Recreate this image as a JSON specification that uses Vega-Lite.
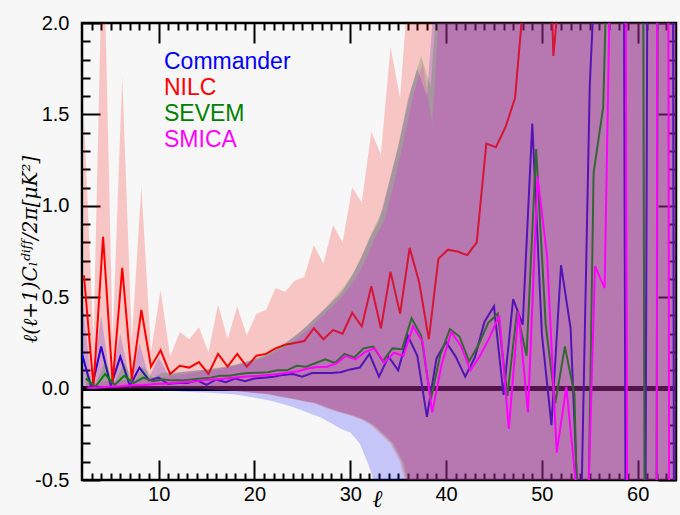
{
"$schema":"https://vega.github.io/schema/vega-lite/v6.json",
"width":594,"height":457,
"autosize":{"type":"none"},
"padding":{"left":82,"top":23,"right":4,"bottom":35},
"background":"#f7f7f7",
"config":{"view":{"stroke":"black","strokeWidth":2.5},
  "legend":{"orient":"none","legendX":59,"legendY":27,"title":null,"symbolSize":0,"symbolOpacity":0,"symbolStrokeWidth":0,"labelOffset":0,"labelFontSize":23,"labelFont":"Liberation Sans","rowPadding":2,"padding":0}},
"data":{"values":[
{"m":"Commander","l":2,"v":0.19,"lo":0,"hi":0.5},
{"m":"Commander","l":3,"v":0,"lo":0,"hi":0.03},
{"m":"Commander","l":4,"v":0.23,"lo":0,"hi":0.4},
{"m":"Commander","l":5,"v":0.015,"lo":0,"hi":0.04},
{"m":"Commander","l":6,"v":0.175,"lo":0,"hi":0.3},
{"m":"Commander","l":7,"v":0.015,"lo":0,"hi":0.05},
{"m":"Commander","l":8,"v":0.115,"lo":0,"hi":0.25},
{"m":"Commander","l":9,"v":0.045,"lo":-0.005,"hi":0.06},
{"m":"Commander","l":10,"v":0.06,"lo":-0.01,"hi":0.17},
{"m":"Commander","l":11,"v":0.025,"lo":-0.012,"hi":0.08},
{"m":"Commander","l":12,"v":0.03,"lo":-0.015,"hi":0.09},
{"m":"Commander","l":13,"v":0.03,"lo":-0.018,"hi":0.095},
{"m":"Commander","l":14,"v":0.045,"lo":-0.02,"hi":0.1},
{"m":"Commander","l":15,"v":0.02,"lo":-0.022,"hi":0.105},
{"m":"Commander","l":16,"v":0.05,"lo":-0.025,"hi":0.11},
{"m":"Commander","l":17,"v":0.035,"lo":-0.028,"hi":0.12},
{"m":"Commander","l":18,"v":0.055,"lo":-0.032,"hi":0.13},
{"m":"Commander","l":19,"v":0.04,"lo":-0.04,"hi":0.145},
{"m":"Commander","l":20,"v":0.055,"lo":-0.05,"hi":0.16},
{"m":"Commander","l":21,"v":0.06,"lo":-0.06,"hi":0.18},
{"m":"Commander","l":22,"v":0.065,"lo":-0.07,"hi":0.21},
{"m":"Commander","l":23,"v":0.075,"lo":-0.085,"hi":0.24},
{"m":"Commander","l":24,"v":0.08,"lo":-0.1,"hi":0.28},
{"m":"Commander","l":25,"v":0.065,"lo":-0.12,"hi":0.32},
{"m":"Commander","l":26,"v":0.085,"lo":-0.14,"hi":0.37},
{"m":"Commander","l":27,"v":0.085,"lo":-0.16,"hi":0.42},
{"m":"Commander","l":28,"v":0.085,"lo":-0.19,"hi":0.47},
{"m":"Commander","l":29,"v":0.09,"lo":-0.22,"hi":0.52},
{"m":"Commander","l":30,"v":0.105,"lo":-0.24,"hi":0.6},
{"m":"Commander","l":31,"v":0.115,"lo":-0.3,"hi":0.7},
{"m":"Commander","l":32,"v":0.19,"lo":-0.43,"hi":0.82},
{"m":"Commander","l":33,"v":0.065,"lo":-0.6,"hi":0.92},
{"m":"Commander","l":34,"v":0.175,"lo":-0.75,"hi":1.12},
{"m":"Commander","l":35,"v":0.1,"lo":-0.9,"hi":1.32},
{"m":"Commander","l":36,"v":0.29,"lo":-1.1,"hi":1.58},
{"m":"Commander","l":37,"v":0.18,"lo":-1.3,"hi":1.75},
{"m":"Commander","l":38,"v":-0.155,"lo":-1.5,"hi":1.6},
{"m":"Commander","l":39,"v":0.165,"lo":-1.7,"hi":2.3},
{"m":"Commander","l":40,"v":0.255,"lo":-4,"hi":5},
{"m":"Commander","l":41,"v":0.175,"lo":-4,"hi":5},
{"m":"Commander","l":42,"v":0.065,"lo":-4,"hi":5},
{"m":"Commander","l":43,"v":0.17,"lo":-4,"hi":5},
{"m":"Commander","l":44,"v":0.365,"lo":-4,"hi":5},
{"m":"Commander","l":45,"v":0.45,"lo":-4,"hi":5},
{"m":"Commander","l":46,"v":-0.035,"lo":-4,"hi":5},
{"m":"Commander","l":47,"v":0.49,"lo":-4,"hi":5},
{"m":"Commander","l":48,"v":0.35,"lo":-4,"hi":5},
{"m":"Commander","l":49,"v":1.45,"lo":-4,"hi":5},
{"m":"Commander","l":50,"v":0.3,"lo":-4,"hi":5},
{"m":"Commander","l":51,"v":-0.2,"lo":-4,"hi":5},
{"m":"Commander","l":52,"v":0.675,"lo":-4,"hi":5},
{"m":"Commander","l":53,"v":0.33,"lo":-4,"hi":5},
{"m":"Commander","l":54,"v":-0.95,"lo":-4,"hi":5},
{"m":"Commander","l":55,"v":1.66,"lo":-4,"hi":5},
{"m":"Commander","l":56,"v":2.8,"lo":-4,"hi":5},
{"m":"Commander","l":57,"v":6,"lo":-4,"hi":5},
{"m":"Commander","l":58,"v":12,"lo":-4,"hi":5},
{"m":"Commander","l":59,"v":-5.3,"lo":-4,"hi":5},
{"m":"Commander","l":60,"v":-13,"lo":-4,"hi":5},
{"m":"Commander","l":61,"v":2.1,"lo":-4,"hi":5},
{"m":"Commander","l":62,"v":8,"lo":-4,"hi":5},
{"m":"Commander","l":63,"v":25,"lo":-4,"hi":5},
{"m":"Commander","l":64,"v":-8,"lo":-4,"hi":5},
{"m":"NILC","l":2.2,"v":0.62,"lo":0,"hi":1.5},
{"m":"NILC","l":3.2,"v":0.01,"lo":0,"hi":0.27},
{"m":"NILC","l":4.2,"v":0.83,"lo":0,"hi":2.6},
{"m":"NILC","l":5.2,"v":0.03,"lo":0,"hi":0.27},
{"m":"NILC","l":6.2,"v":0.66,"lo":0,"hi":1.71},
{"m":"NILC","l":7.2,"v":0.05,"lo":0,"hi":0.27},
{"m":"NILC","l":8.2,"v":0.43,"lo":0,"hi":1.11},
{"m":"NILC","l":9.2,"v":0.12,"lo":0,"hi":0.2},
{"m":"NILC","l":10.2,"v":0.21,"lo":0,"hi":0.54},
{"m":"NILC","l":11.2,"v":0.08,"lo":0,"hi":0.175},
{"m":"NILC","l":12.2,"v":0.125,"lo":0,"hi":0.31},
{"m":"NILC","l":13.2,"v":0.115,"lo":0,"hi":0.27},
{"m":"NILC","l":14.2,"v":0.145,"lo":0,"hi":0.335},
{"m":"NILC","l":15.2,"v":0.08,"lo":-0.005,"hi":0.2},
{"m":"NILC","l":16.2,"v":0.19,"lo":-0.008,"hi":0.46},
{"m":"NILC","l":17.2,"v":0.12,"lo":-0.01,"hi":0.27},
{"m":"NILC","l":18.2,"v":0.19,"lo":-0.015,"hi":0.45},
{"m":"NILC","l":19.2,"v":0.12,"lo":-0.02,"hi":0.29},
{"m":"NILC","l":20.2,"v":0.18,"lo":-0.026,"hi":0.41},
{"m":"NILC","l":21.2,"v":0.19,"lo":-0.03,"hi":0.43},
{"m":"NILC","l":22.2,"v":0.22,"lo":-0.04,"hi":0.55},
{"m":"NILC","l":23.2,"v":0.24,"lo":-0.05,"hi":0.53},
{"m":"NILC","l":24.2,"v":0.25,"lo":-0.06,"hi":0.59},
{"m":"NILC","l":25.2,"v":0.26,"lo":-0.07,"hi":0.61},
{"m":"NILC","l":26.2,"v":0.33,"lo":-0.08,"hi":0.785},
{"m":"NILC","l":27.2,"v":0.27,"lo":-0.1,"hi":0.685},
{"m":"NILC","l":28.2,"v":0.32,"lo":-0.12,"hi":0.895},
{"m":"NILC","l":29.2,"v":0.3,"lo":-0.135,"hi":0.8},
{"m":"NILC","l":30.2,"v":0.415,"lo":-0.15,"hi":1.1},
{"m":"NILC","l":31.2,"v":0.34,"lo":-0.17,"hi":1.02},
{"m":"NILC","l":32.2,"v":0.56,"lo":-0.2,"hi":1.405},
{"m":"NILC","l":33.2,"v":0.33,"lo":-0.25,"hi":1.28},
{"m":"NILC","l":34.2,"v":0.64,"lo":-0.3,"hi":1.87},
{"m":"NILC","l":35.2,"v":0.41,"lo":-0.4,"hi":1.59},
{"m":"NILC","l":36.2,"v":0.77,"lo":-0.6,"hi":2.3},
{"m":"NILC","l":37.2,"v":0.58,"lo":-0.8,"hi":4},
{"m":"NILC","l":38.2,"v":0.27,"lo":-1,"hi":4},
{"m":"NILC","l":39.2,"v":0.71,"lo":-1.3,"hi":4},
{"m":"NILC","l":40.2,"v":0.76,"lo":-4,"hi":5},
{"m":"NILC","l":41.2,"v":0.75,"lo":-4,"hi":5},
{"m":"NILC","l":42.2,"v":0.73,"lo":-4,"hi":5},
{"m":"NILC","l":43.2,"v":0.8,"lo":-4,"hi":5},
{"m":"NILC","l":44.2,"v":1.34,"lo":-4,"hi":5},
{"m":"NILC","l":45.2,"v":1.32,"lo":-4,"hi":5},
{"m":"NILC","l":46.2,"v":1.43,"lo":-4,"hi":5},
{"m":"NILC","l":47.2,"v":1.59,"lo":-4,"hi":5},
{"m":"NILC","l":48.2,"v":2.2,"lo":-4,"hi":5},
{"m":"NILC","l":49.2,"v":3,"lo":-4,"hi":5},
{"m":"NILC","l":50.2,"v":3.6,"lo":-4,"hi":5},
{"m":"NILC","l":51.2,"v":1.82,"lo":-4,"hi":5},
{"m":"NILC","l":52.2,"v":2.4,"lo":-4,"hi":5},
{"m":"NILC","l":53.2,"v":3,"lo":-4,"hi":5},
{"m":"NILC","l":54.2,"v":4,"lo":-4,"hi":5},
{"m":"NILC","l":55.2,"v":3.5,"lo":-4,"hi":5},
{"m":"NILC","l":56.2,"v":5,"lo":-4,"hi":5},
{"m":"NILC","l":57.2,"v":4,"lo":-4,"hi":5},
{"m":"NILC","l":58.2,"v":6,"lo":-4,"hi":5},
{"m":"NILC","l":59.2,"v":5,"lo":-4,"hi":5},
{"m":"NILC","l":60.2,"v":7,"lo":-4,"hi":5},
{"m":"NILC","l":61.2,"v":6,"lo":-4,"hi":5},
{"m":"NILC","l":62.2,"v":8,"lo":-4,"hi":5},
{"m":"NILC","l":63.2,"v":7,"lo":-4,"hi":5},
{"m":"NILC","l":64.2,"v":9,"lo":-4,"hi":5},
{"m":"SEVEM","l":2.4,"v":0.055,"lo":0,"hi":0.1},
{"m":"SEVEM","l":3.4,"v":0.01,"lo":0,"hi":0.02},
{"m":"SEVEM","l":4.4,"v":0.08,"lo":0,"hi":0.15},
{"m":"SEVEM","l":5.4,"v":0.02,"lo":0,"hi":0.03},
{"m":"SEVEM","l":6.4,"v":0.07,"lo":0,"hi":0.14},
{"m":"SEVEM","l":7.4,"v":0.03,"lo":0,"hi":0.04},
{"m":"SEVEM","l":8.4,"v":0.06,"lo":0,"hi":0.12},
{"m":"SEVEM","l":9.4,"v":0.04,"lo":0,"hi":0.06},
{"m":"SEVEM","l":10.4,"v":0.05,"lo":0,"hi":0.09},
{"m":"SEVEM","l":11.4,"v":0.045,"lo":0,"hi":0.08},
{"m":"SEVEM","l":12.4,"v":0.045,"lo":0,"hi":0.09},
{"m":"SEVEM","l":13.4,"v":0.05,"lo":0,"hi":0.095},
{"m":"SEVEM","l":14.4,"v":0.055,"lo":0,"hi":0.1},
{"m":"SEVEM","l":15.4,"v":0.06,"lo":-0.005,"hi":0.11},
{"m":"SEVEM","l":16.4,"v":0.07,"lo":-0.008,"hi":0.115},
{"m":"SEVEM","l":17.4,"v":0.07,"lo":-0.01,"hi":0.125},
{"m":"SEVEM","l":18.4,"v":0.08,"lo":-0.015,"hi":0.135},
{"m":"SEVEM","l":19.4,"v":0.085,"lo":-0.02,"hi":0.15},
{"m":"SEVEM","l":20.4,"v":0.087,"lo":-0.026,"hi":0.17},
{"m":"SEVEM","l":21.4,"v":0.09,"lo":-0.03,"hi":0.19},
{"m":"SEVEM","l":22.4,"v":0.1,"lo":-0.04,"hi":0.22},
{"m":"SEVEM","l":23.4,"v":0.1,"lo":-0.05,"hi":0.255},
{"m":"SEVEM","l":24.4,"v":0.125,"lo":-0.06,"hi":0.295},
{"m":"SEVEM","l":25.4,"v":0.12,"lo":-0.07,"hi":0.34},
{"m":"SEVEM","l":26.4,"v":0.14,"lo":-0.08,"hi":0.39},
{"m":"SEVEM","l":27.4,"v":0.16,"lo":-0.1,"hi":0.44},
{"m":"SEVEM","l":28.4,"v":0.14,"lo":-0.12,"hi":0.5},
{"m":"SEVEM","l":29.4,"v":0.19,"lo":-0.135,"hi":0.56},
{"m":"SEVEM","l":30.4,"v":0.17,"lo":-0.15,"hi":0.64},
{"m":"SEVEM","l":31.4,"v":0.22,"lo":-0.17,"hi":0.75},
{"m":"SEVEM","l":32.4,"v":0.23,"lo":-0.2,"hi":0.87},
{"m":"SEVEM","l":33.4,"v":0.15,"lo":-0.25,"hi":0.98},
{"m":"SEVEM","l":34.4,"v":0.22,"lo":-0.3,"hi":1.2},
{"m":"SEVEM","l":35.4,"v":0.215,"lo":-0.4,"hi":1.42},
{"m":"SEVEM","l":36.4,"v":0.385,"lo":-0.6,"hi":1.65},
{"m":"SEVEM","l":37.4,"v":0.29,"lo":-0.8,"hi":1.82},
{"m":"SEVEM","l":38.4,"v":-0.06,"lo":-1,"hi":1.65},
{"m":"SEVEM","l":39.4,"v":0.185,"lo":-1.3,"hi":2.4},
{"m":"SEVEM","l":40.4,"v":0.325,"lo":-4,"hi":5},
{"m":"SEVEM","l":41.4,"v":0.285,"lo":-4,"hi":5},
{"m":"SEVEM","l":42.4,"v":0.15,"lo":-4,"hi":5},
{"m":"SEVEM","l":43.4,"v":0.24,"lo":-4,"hi":5},
{"m":"SEVEM","l":44.4,"v":0.36,"lo":-4,"hi":5},
{"m":"SEVEM","l":45.4,"v":0.41,"lo":-4,"hi":5},
{"m":"SEVEM","l":46.4,"v":-0.04,"lo":-4,"hi":5},
{"m":"SEVEM","l":47.4,"v":0.42,"lo":-4,"hi":5},
{"m":"SEVEM","l":48.4,"v":0.18,"lo":-4,"hi":5},
{"m":"SEVEM","l":49.4,"v":1.31,"lo":-4,"hi":5},
{"m":"SEVEM","l":50.4,"v":0.35,"lo":-4,"hi":5},
{"m":"SEVEM","l":51.4,"v":-0.08,"lo":-4,"hi":5},
{"m":"SEVEM","l":52.4,"v":0.23,"lo":-4,"hi":5},
{"m":"SEVEM","l":53.4,"v":-0.03,"lo":-4,"hi":5},
{"m":"SEVEM","l":54.4,"v":-2.2,"lo":-4,"hi":5},
{"m":"SEVEM","l":55.4,"v":1.18,"lo":-4,"hi":5},
{"m":"SEVEM","l":56.4,"v":1.54,"lo":-4,"hi":5},
{"m":"SEVEM","l":57.4,"v":3.5,"lo":-4,"hi":5},
{"m":"SEVEM","l":58.4,"v":6,"lo":-4,"hi":5},
{"m":"SEVEM","l":59.4,"v":8,"lo":-4,"hi":5},
{"m":"SEVEM","l":60.4,"v":6,"lo":-4,"hi":5},
{"m":"SEVEM","l":61.4,"v":-15,"lo":-4,"hi":5},
{"m":"SEVEM","l":62.4,"v":10,"lo":-4,"hi":5},
{"m":"SEVEM","l":63.4,"v":12,"lo":-4,"hi":5},
{"m":"SEVEM","l":64.4,"v":10,"lo":-4,"hi":5},
{"m":"SMICA","l":2.55,"v":0.005,"lo":0,"hi":0.03},
{"m":"SMICA","l":3.55,"v":0.005,"lo":0,"hi":0.03},
{"m":"SMICA","l":4.55,"v":0.01,"lo":0,"hi":0.04},
{"m":"SMICA","l":5.55,"v":0.012,"lo":0,"hi":0.04},
{"m":"SMICA","l":6.55,"v":0.015,"lo":0,"hi":0.045},
{"m":"SMICA","l":7.55,"v":0.018,"lo":0,"hi":0.05},
{"m":"SMICA","l":8.55,"v":0.02,"lo":0,"hi":0.055},
{"m":"SMICA","l":9.55,"v":0.025,"lo":0,"hi":0.06},
{"m":"SMICA","l":10.55,"v":0.027,"lo":0,"hi":0.065},
{"m":"SMICA","l":11.55,"v":0.03,"lo":0,"hi":0.07},
{"m":"SMICA","l":12.55,"v":0.035,"lo":0,"hi":0.08},
{"m":"SMICA","l":13.55,"v":0.038,"lo":0,"hi":0.085},
{"m":"SMICA","l":14.55,"v":0.045,"lo":0,"hi":0.095},
{"m":"SMICA","l":15.55,"v":0.05,"lo":-0.005,"hi":0.1},
{"m":"SMICA","l":16.55,"v":0.052,"lo":-0.008,"hi":0.11},
{"m":"SMICA","l":17.55,"v":0.058,"lo":-0.01,"hi":0.12},
{"m":"SMICA","l":18.55,"v":0.063,"lo":-0.015,"hi":0.13},
{"m":"SMICA","l":19.55,"v":0.068,"lo":-0.02,"hi":0.145},
{"m":"SMICA","l":20.55,"v":0.07,"lo":-0.026,"hi":0.16},
{"m":"SMICA","l":21.55,"v":0.075,"lo":-0.03,"hi":0.18},
{"m":"SMICA","l":22.55,"v":0.08,"lo":-0.04,"hi":0.21},
{"m":"SMICA","l":23.55,"v":0.088,"lo":-0.05,"hi":0.24},
{"m":"SMICA","l":24.55,"v":0.095,"lo":-0.06,"hi":0.28},
{"m":"SMICA","l":25.55,"v":0.11,"lo":-0.07,"hi":0.32},
{"m":"SMICA","l":26.55,"v":0.118,"lo":-0.08,"hi":0.37},
{"m":"SMICA","l":27.55,"v":0.12,"lo":-0.1,"hi":0.42},
{"m":"SMICA","l":28.55,"v":0.138,"lo":-0.12,"hi":0.47},
{"m":"SMICA","l":29.55,"v":0.178,"lo":-0.135,"hi":0.53},
{"m":"SMICA","l":30.55,"v":0.16,"lo":-0.15,"hi":0.6},
{"m":"SMICA","l":31.55,"v":0.2,"lo":-0.17,"hi":0.7},
{"m":"SMICA","l":32.55,"v":0.22,"lo":-0.2,"hi":0.82},
{"m":"SMICA","l":33.55,"v":0.14,"lo":-0.25,"hi":0.92},
{"m":"SMICA","l":34.55,"v":0.196,"lo":-0.3,"hi":1.12},
{"m":"SMICA","l":35.55,"v":0.178,"lo":-0.4,"hi":1.35},
{"m":"SMICA","l":36.55,"v":0.34,"lo":-0.6,"hi":1.6},
{"m":"SMICA","l":37.55,"v":0.257,"lo":-0.8,"hi":1.78},
{"m":"SMICA","l":38.55,"v":-0.13,"lo":-1,"hi":1.45},
{"m":"SMICA","l":39.55,"v":0.135,"lo":-1.3,"hi":2.3},
{"m":"SMICA","l":40.55,"v":0.31,"lo":-4,"hi":5},
{"m":"SMICA","l":41.55,"v":0.233,"lo":-4,"hi":5},
{"m":"SMICA","l":42.55,"v":0.1,"lo":-4,"hi":5},
{"m":"SMICA","l":43.55,"v":0.18,"lo":-4,"hi":5},
{"m":"SMICA","l":44.55,"v":0.28,"lo":-4,"hi":5},
{"m":"SMICA","l":45.55,"v":0.4,"lo":-4,"hi":5},
{"m":"SMICA","l":46.55,"v":-0.22,"lo":-4,"hi":5},
{"m":"SMICA","l":47.55,"v":0.42,"lo":-4,"hi":5},
{"m":"SMICA","l":48.55,"v":-0.13,"lo":-4,"hi":5},
{"m":"SMICA","l":49.55,"v":1.16,"lo":-4,"hi":5},
{"m":"SMICA","l":50.55,"v":0.72,"lo":-4,"hi":5},
{"m":"SMICA","l":51.55,"v":-0.35,"lo":-4,"hi":5},
{"m":"SMICA","l":52.55,"v":0.01,"lo":-4,"hi":5},
{"m":"SMICA","l":53.55,"v":-0.52,"lo":-4,"hi":5},
{"m":"SMICA","l":54.55,"v":-1.13,"lo":-4,"hi":5},
{"m":"SMICA","l":55.55,"v":0.67,"lo":-4,"hi":5},
{"m":"SMICA","l":56.55,"v":0.55,"lo":-4,"hi":5},
{"m":"SMICA","l":57.55,"v":3.55,"lo":-4,"hi":5},
{"m":"SMICA","l":58.55,"v":5.9,"lo":-4,"hi":5},
{"m":"SMICA","l":59.55,"v":-12.6,"lo":-4,"hi":5},
{"m":"SMICA","l":60.55,"v":-5,"lo":-4,"hi":5},
{"m":"SMICA","l":61.55,"v":-20,"lo":-4,"hi":5},
{"m":"SMICA","l":62.55,"v":25,"lo":-4,"hi":5},
{"m":"SMICA","l":63.55,"v":-10,"lo":-4,"hi":5},
{"m":"SMICA","l":64.55,"v":5,"lo":-4,"hi":5}
]},
"layer":[
{"mark":{"type":"rule","color":"black","strokeWidth":4},
 "encoding":{"y":{"datum":0,"type":"quantitative","scale":{"domain":[-0.5,2],"nice":false,"zero":false},
   "axis":{"orient":"left","values":[-0.5,0,0.5,1,1.5,2],"format":".1f","labelExpr":"replace(datum.label,'−','-')","ticks":false,"tickSize":0,"domain":false,"grid":false,"labelPadding":13,"labelFont":"Liberation Sans","labelFontSize":20,"labelColor":"black",
     "title":"ℓ(ℓ+1)Cₗᵈⁱᶠᶠ/2π[μK²]","titleFont":"DejaVu Serif","titleFontStyle":"italic","titleFontWeight":"normal","titleFontSize":20,"titleColor":"black","titleX":-52,"titleY":226,"titleAngle":-90,"titleBaseline":"middle","titleAlign":"center"}}}},
{"transform":[{"filter":"datum.m === 'Commander'"}],
 "mark":{"type":"area","opacity":0.2,"clip":true},
 "encoding":{
  "x":{"field":"l","type":"quantitative","scale":{"domain":[2,64],"nice":false,"zero":false},
    "axis":{"orient":"bottom","values":[10,20,30,40,50,60],"ticks":false,"tickSize":0,"domain":false,"grid":false,"labelPadding":4,"labelFont":"Liberation Sans","labelFontSize":20,"labelColor":"black",
      "title":"ℓ","titleX":295,"titleY":26,"titleFont":"DejaVu Serif","titleFontStyle":"italic","titleFontWeight":"normal","titleFontSize":24,"titleBaseline":"alphabetic","titleAlign":"center","titleColor":"black"}},
  "y":{"field":"lo","type":"quantitative","stack":null,
    "axis":{"orient":"left","values":[-0.5,0,0.5,1,1.5,2],"tickSize":-18,"tickWidth":2,"tickColor":"black","labels":false,"domain":false,"grid":false,"title":null}},
  "y2":{"field":"hi"},
  "color":{"field":"m","type":"nominal","scale":{"domain":["Commander","NILC","SEVEM","SMICA"],"range":["#0000ff","#ff0000","#008000","#ff00ff"]},
    "legend":{"encode":{"labels":{"update":{"fill":{"scale":"color","field":"value"}}}}}}}},
{"transform":[{"filter":"datum.m === 'Commander'"}],
 "mark":{"type":"line","strokeWidth":2,"clip":true},
 "encoding":{
  "x":{"field":"l","type":"quantitative",
    "axis":{"orient":"bottom","values":[10,20,30,40,50,60],"tickSize":-20,"tickWidth":2,"tickColor":"black","labels":false,"domain":false,"grid":false,"title":null}},
  "y":{"field":"v","type":"quantitative",
    "axis":{"orient":"left","values":[-0.4,-0.3,-0.2,-0.1,0.1,0.2,0.3,0.4,0.6,0.7,0.8,0.9,1.1,1.2,1.3,1.4,1.6,1.7,1.8,1.9],"tickSize":-8,"tickWidth":2,"tickColor":"black","labels":false,"domain":false,"grid":false,"title":null}},
  "color":{"field":"m","type":"nominal",
    "legend":{"encode":{"labels":{"update":{"fill":{"scale":"color","field":"value"}}}}}}}},
{"transform":[{"filter":"datum.m === 'NILC'"}],
 "mark":{"type":"area","opacity":0.2,"clip":true},
 "encoding":{
  "x":{"field":"l","type":"quantitative",
    "axis":{"orient":"bottom","values":[3,4,5,6,7,8,9,11,12,13,14,15,16,17,18,19,21,22,23,24,25,26,27,28,29,31,32,33,34,35,36,37,38,39,41,42,43,44,45,46,47,48,49,51,52,53,54,55,56,57,58,59,61,62,63],"tickSize":-7,"tickWidth":2,"tickColor":"black","labels":false,"domain":false,"grid":false,"title":null}},
  "y":{"field":"lo","type":"quantitative","stack":null,
    "axis":{"orient":"right","values":[-0.5,0,0.5,1,1.5,2],"tickSize":-18,"tickWidth":2,"tickColor":"black","labels":false,"domain":false,"grid":false,"title":null}},
  "y2":{"field":"hi"},
  "color":{"field":"m","type":"nominal",
    "legend":{"encode":{"labels":{"update":{"fill":{"scale":"color","field":"value"}}}}}}}},
{"transform":[{"filter":"datum.m === 'NILC'"}],
 "mark":{"type":"line","strokeWidth":2,"clip":true},
 "encoding":{
  "x":{"field":"l","type":"quantitative",
    "axis":{"orient":"top","values":[10,20,30,40,50,60],"tickSize":-20,"tickWidth":2,"tickColor":"black","labels":false,"domain":false,"grid":false,"title":null}},
  "y":{"field":"v","type":"quantitative",
    "axis":{"orient":"right","values":[-0.4,-0.3,-0.2,-0.1,0.1,0.2,0.3,0.4,0.6,0.7,0.8,0.9,1.1,1.2,1.3,1.4,1.6,1.7,1.8,1.9],"tickSize":-8,"tickWidth":2,"tickColor":"black","labels":false,"domain":false,"grid":false,"title":null}},
  "color":{"field":"m","type":"nominal",
    "legend":{"encode":{"labels":{"update":{"fill":{"scale":"color","field":"value"}}}}}}}},
{"transform":[{"filter":"datum.m === 'SEVEM'"}],
 "mark":{"type":"area","opacity":0.2,"clip":true},
 "encoding":{
  "x":{"field":"l","type":"quantitative",
    "axis":{"orient":"top","values":[3,4,5,6,7,8,9,11,12,13,14,15,16,17,18,19,21,22,23,24,25,26,27,28,29,31,32,33,34,35,36,37,38,39,41,42,43,44,45,46,47,48,49,51,52,53,54,55,56,57,58,59,61,62,63],"tickSize":-7,"tickWidth":2,"tickColor":"black","labels":false,"domain":false,"grid":false,"title":null}},
  "y":{"field":"lo","type":"quantitative","stack":null,"axis":null},
  "y2":{"field":"hi"},
  "color":{"field":"m","type":"nominal",
    "legend":{"encode":{"labels":{"update":{"fill":{"scale":"color","field":"value"}}}}}}}},
{"transform":[{"filter":"datum.m === 'SEVEM'"}],
 "mark":{"type":"line","strokeWidth":2,"clip":true},
 "encoding":{
  "x":{"field":"l","type":"quantitative","axis":null},
  "y":{"field":"v","type":"quantitative","axis":null},
  "color":{"field":"m","type":"nominal",
    "legend":{"encode":{"labels":{"update":{"fill":{"scale":"color","field":"value"}}}}}}}},
{"transform":[{"filter":"datum.m === 'SMICA'"}],
 "mark":{"type":"area","opacity":0.2,"clip":true},
 "encoding":{
  "x":{"field":"l","type":"quantitative","axis":null},
  "y":{"field":"lo","type":"quantitative","stack":null,"axis":null},
  "y2":{"field":"hi"},
  "color":{"field":"m","type":"nominal",
    "legend":{"encode":{"labels":{"update":{"fill":{"scale":"color","field":"value"}}}}}}}},
{"transform":[{"filter":"datum.m === 'SMICA'"}],
 "mark":{"type":"line","strokeWidth":2,"clip":true},
 "encoding":{
  "x":{"field":"l","type":"quantitative","axis":null},
  "y":{"field":"v","type":"quantitative","axis":null},
  "color":{"field":"m","type":"nominal",
    "legend":{"encode":{"labels":{"update":{"fill":{"scale":"color","field":"value"}}}}}}}}
],
"resolve":{"axis":{"x":"independent","y":"independent"}}
}
